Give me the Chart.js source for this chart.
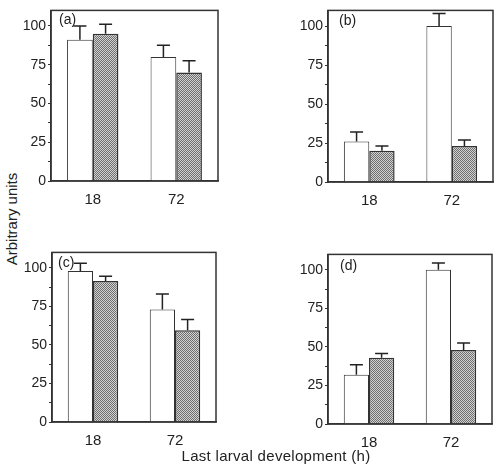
<!DOCTYPE html>
<html>
<head>
<meta charset="utf-8">
<script src="https://cdn.jsdelivr.net/npm/chart.js@4.4.0/dist/chart.umd.min.js"></script>
<style>
  body { margin: 0; background: #fff; width: 496px; height: 464px; position: relative; overflow: hidden; font-family: "Liberation Sans", Arial, sans-serif; }
  .panel { position: absolute; }
  #yTitle { position: absolute; left: 11px; top: 219px; transform: translate(-50%, -50%) rotate(-90deg); font-size: 15px; color: #222; white-space: nowrap; }
  #xTitle { position: absolute; left: 276px; top: 455px; transform: translate(-50%, -50%); font-size: 15px; letter-spacing: 0.3px; color: #222; white-space: nowrap; }
</style>
</head>
<body>
<div class="panel" style="left:21px;top:0px;width:199px;height:205px"><canvas id="chartA"></canvas></div>
<div class="panel" style="left:298px;top:0px;width:197px;height:206px"><canvas id="chartB"></canvas></div>
<div class="panel" style="left:22px;top:242px;width:196px;height:204px"><canvas id="chartC"></canvas></div>
<div class="panel" style="left:298px;top:244px;width:196px;height:204px"><canvas id="chartD"></canvas></div>
<div id="yTitle">Arbitrary units</div>
<div id="xTitle">Last larval development (h)</div>
<script>
// Values (hours of last larval development)
const categories = ['18', '72'];
const yTicks = [0, 25, 50, 75, 100];

const openA = [91, 80];
const openAErr = [9, 7.5];
const shadedA = [95, 70];
const shadedAErr = [6, 7.5];

const openB = [26, 100];
const openBErr = [6, 8];
const shadedB = [20, 23];
const shadedBErr = [3, 4];

const openC = [98, 73];
const openCErr = [5, 10];
const shadedC = [91.5, 59.5];
const shadedCErr = [3, 7];

const openD = [32, 100];
const openDErr = [6.5, 4.5];
const shadedD = [43, 48];
const shadedDErr = [2.7, 4.5];

Chart.defaults.font.family = '"Liberation Sans", Arial, sans-serif';
Chart.defaults.color = '#222';

// stippled grey fill for the shaded bars
function makeStipple() {
  const c = document.createElement('canvas');
  c.width = 4; c.height = 4;
  const g = c.getContext('2d');
  for (let y = 0; y < 4; y++) {
    for (let x = 0; x < 4; x++) {
      g.fillStyle = (x + y) % 2 === 0 ? '#6e6e6e' : '#d2d2d2';
      g.fillRect(x, y, 1, 1);
    }
  }
  return g.createPattern(c, 'repeat');
}
const stipple = makeStipple();

// upward error bars + frame + panel letter
const extrasPlugin = {
  id: 'extras',
  afterDatasetsDraw(chart) {
    const ctx = chart.ctx;
    const yScale = chart.scales.y;
    const errs = chart.options.plugins.extras.errors;
    ctx.save();
    ctx.strokeStyle = '#222';
    ctx.lineWidth = 1.5;
    chart.data.datasets.forEach((ds, i) => {
      const meta = chart.getDatasetMeta(i);
      meta.data.forEach((bar, j) => {
        const top = yScale.getPixelForValue(ds.data[j] + errs[i][j]);
        ctx.beginPath();
        ctx.moveTo(bar.x, bar.y);
        ctx.lineTo(bar.x, top);
        ctx.moveTo(bar.x - 6.5, top);
        ctx.lineTo(bar.x + 6.5, top);
        ctx.stroke();
      });
    });
    const a = chart.chartArea;
    ctx.strokeStyle = '#333';
    ctx.lineWidth = 1.5;
    ctx.strokeRect(a.left, a.top, a.right - a.left, a.bottom - a.top);
    const lab = chart.options.plugins.extras;
    ctx.fillStyle = '#222';
    ctx.font = '14px "Liberation Sans", Arial, sans-serif';
    ctx.textBaseline = 'middle';
    ctx.fillText(lab.label, a.left + lab.dx, a.top + lab.dy);
    ctx.restore();
  }
};

function buildPanel(id, open, openErr, shaded, shadedErr, label, padTop, dx, dy) {
  const canvas = document.getElementById(id);
  new Chart(canvas, {
    type: 'bar',
    data: {
      labels: categories,
      datasets: [
        { data: open, backgroundColor: '#fff', borderColor: '#333', borderWidth: 1 },
        { data: shaded, backgroundColor: stipple, borderColor: '#333', borderWidth: 1.5 }
      ]
    },
    options: {
      responsive: true,
      maintainAspectRatio: false,
      animation: false,
      layout: { padding: { left: 0, top: padTop, right: 2, bottom: 0 } },
      datasets: { bar: { categoryPercentage: 0.615, barPercentage: 1.0 } },
      plugins: {
        legend: { display: false },
        tooltip: { enabled: false },
        extras: { errors: [openErr, shadedErr], label: label, dx: dx, dy: dy }
      },
      scales: {
        x: {
          grid: { display: false },
          border: { color: '#333', width: 1.5 },
          ticks: { font: { size: 15 }, padding: 2, color: '#222' },
          afterFit(scale) { scale.height = 24; }
        },
        y: {
          min: 0,
          max: 110,
          afterBuildTicks(scale) {
            const t = [];
            yTicks.forEach((v, k) => {
              t.push({ value: v });
              if (k < yTicks.length - 1) t.push({ value: v + 12.5 });
            });
            scale.ticks = t;
          },
          ticks: {
            font: { size: 14 },
            padding: 2,
            color: '#222',
            callback: v => (yTicks.includes(v) ? v : '')
          },
          grid: { drawOnChartArea: false, tickLength: 3, color: '#333' },
          border: { color: '#333', width: 1.5 },
          afterFit(scale) { scale.width = 30; }
        }
      }
    },
    plugins: [extrasPlugin]
  });
}

buildPanel('chartA', openA, openAErr, shadedA, shadedAErr, '(a)', 1, 8, 10);
buildPanel('chartB', openB, openBErr, shadedB, shadedBErr, '(b)', 2, 11, 11);
buildPanel('chartC', openC, openCErr, shadedC, shadedCErr, '(c)', 0, 6, 11);
buildPanel('chartD', openD, openDErr, shadedD, shadedDErr, '(d)', 0, 12, 12);
</script>
</body>
</html>
